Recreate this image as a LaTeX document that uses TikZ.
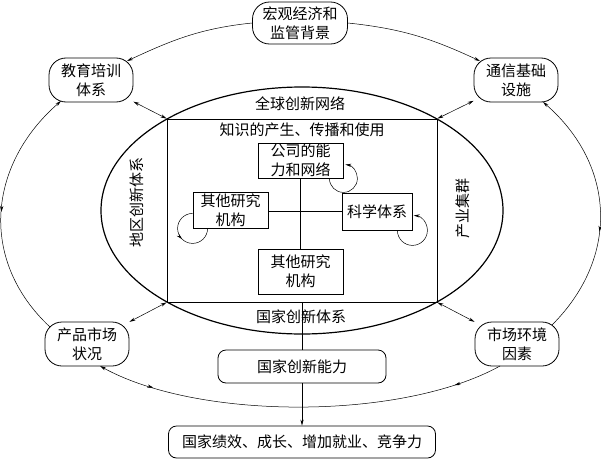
\documentclass[tikz,border=0pt]{standalone}
\usepackage{fontspec}
\newfontfamily\cjk{Noto Sans CJK SC}
\usetikzlibrary{arrows.meta,decorations.markings}
\tikzset{
  zh/.style={font={\cjk\fontsize{15pt}{19pt}\selectfont}, align=center, inner sep=0pt},
  ringbox/.style={zh, draw, line width=0.8pt, rounded corners=17pt, minimum width=84pt, minimum height=44pt},
  knowbox/.style={zh, draw, line width=0.8pt},
  roundbox/.style={zh, draw, line width=0.8pt, rounded corners=8pt},
  ring/.style={line width=0.5pt},
  ringtip/.style={-{Stealth[length=6pt,width=3.2pt]}},
  bothtip/.style={{Stealth[length=6pt,width=3.2pt]}-{Stealth[length=6pt,width=3.2pt]}, line width=0.5pt},
  fwdat/.style={postaction={decorate, decoration={markings, mark=at position #1 with {\arrow{Stealth[length=6pt,width=3.2pt]}}}}},
  revat/.style={postaction={decorate, decoration={markings, mark=at position #1 with {\arrowreversed{Stealth[length=6pt,width=3.2pt]}}}}}
}
\begin{document}
\begin{tikzpicture}[x=1pt,y=1pt]
\useasboundingbox (0,0) rectangle (601,-460);
% Outer nodes
\node[ringbox, minimum width=95pt, minimum height=42pt] (macro) at (300,-23) {宏观经济和\\监管背景};
\node[ringbox] (edu) at (91,-80) {教育培训\\体系};
\node[ringbox] (comm) at (516,-80) {通信基础\\设施};
\node[ringbox] (product) at (87,-344) {产品市场\\状况};
\node[ringbox] (market) at (517,-344) {市场环境\\因素};

%Outer ring
\draw[ring, ringtip] (macro.west) to[out=186,in=25] ([shift={(36pt,19pt)}]edu.center);
\draw[ring, ringtip] (macro.east) to[out=-6,in=155] ([shift={(-36pt,19pt)}]comm.center);
\draw[ring, ringtip, revat=0.42] ([shift={(35pt,19pt)}]market.center) to[out=45,in=-41,looseness=1.1] ([shift={(27pt,-22pt)}]comm.center);
\draw[ring, ringtip, revat=0.5] ([shift={(-37pt,17pt)}]product.center) to[out=137,in=221,looseness=1.1] ([shift={(-30pt,-21pt)}]edu.center);
\draw[ring, ringtip, fwdat=0.12, revat=0.86] ([shift={(-17pt,-22pt)}]market.center) to[out=209,in=-29,looseness=0.72] ([shift={(13pt,-22pt)}]product.center);

%Shape: Ellipse
\draw[line width=1.2pt] (302,-210.5) ellipse [x radius=201pt, y radius=123.5pt];
%Shape: Rectangle
\node[draw, line width=0.8pt, minimum width=270pt, minimum height=183pt, inner sep=0pt] (know) at (302,-210.5) {};

% Text Node
\node[zh] (globaltxt) at (300,-104) {全球创新网络};
% Text Node
\node[zh] (knowtxt) at (302,-130) {知识的产生、传播和使用};
% Text Node
\node[zh, rotate=90] (regiontxt) at (137,-202) {地区创新体系};
% Text Node
\node[zh, rotate=90] (clustertxt) at (463,-208) {产业集群};
% Text Node
\node[zh] (nistxt) at (301,-317) {国家创新体系};

% Inner boxes
\node[knowbox, minimum width=85pt, minimum height=35pt] (firm) at (300.5,-160.5) {公司的能\\力和网络};
\node[knowbox, minimum width=75pt, minimum height=36pt] (otherleft) at (230.5,-210) {其他研究\\机构};
\node[knowbox, minimum width=70pt, minimum height=37pt] (science) at (377,-211.5) {科学体系};
\node[knowbox, minimum width=85pt, minimum height=45pt] (otherlow) at (300.5,-271.5) {其他研究\\机构};

%Straight Lines
\draw[line width=0.5pt] (firm.south) -- (otherlow.north);
\draw[line width=0.5pt] (otherleft.east |- 0,-211) -- (science.west |- 0,-211);

% Self loops
\draw[ring, ringtip] ([xshift=-14pt]firm.south east) arc[start angle=180, end angle=442, radius=14pt];
\draw[ring, ringtip] ([xshift=-15pt]science.south east) arc[start angle=180, end angle=445, radius=15pt];
\draw[ring, fwdat=0.5] ([yshift=15pt]otherleft.south west) arc[start angle=90, end angle=360, radius=15pt];

% Links to the knowledge box
\draw[bothtip] (edu) -- (know.north west);
\draw[bothtip] (comm) -- (know.north east);
\draw[bothtip] (product) -- (know.south west);
\draw[bothtip] (market) -- (know.south east);

% Bottom boxes
\node[roundbox, minimum width=168pt, minimum height=33pt] (ability) at (302,-366.5) {国家创新能力};
\node[roundbox, minimum width=267pt, minimum height=32pt] (result) at (302,-442) {国家绩效、成长、增加就业、竞争力};
\draw[line width=0.5pt] (know.south) -- (ability.north);
\draw[ring, ringtip] (ability.south) -- (result.north);
\end{tikzpicture}
\end{document}
